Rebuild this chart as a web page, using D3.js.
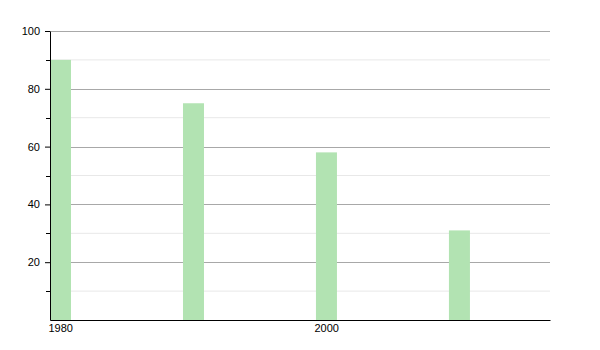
<!DOCTYPE html>
<html>
<head>
<meta charset="utf-8">
<script src="https://cdn.jsdelivr.net/npm/d3@7"></script>
<style>
  body { margin: 0; background: #fff; }
  text { font-family: "Liberation Sans", Arial, sans-serif; font-size: 11px; fill: #000; }
</style>
</head>
<body>
<script>
var years = [1980, 1990, 2000, 2010];
var values = [90, 75, 58, 31];
var xTicks = [1980, 2000];
var yMajor = [20, 40, 60, 80, 100];
var yMinor = [10, 30, 50, 70, 90];

var width = 600, height = 350;
var margin = {left: 50, right: 50, top: 31, bottom: 30};

var svg = d3.select("body").append("svg")
  .attr("width", width)
  .attr("height", height);

var x = d3.scaleLinear()
  .domain([1980, 2017.6])
  .range([margin.left, width - margin.right]);

var y = d3.scaleLinear()
  .domain([0, 100])
  .range([height - margin.bottom, margin.top]);

var defs = svg.append("defs");
defs.append("filter").attr("id", "soft")
  .append("feGaussianBlur").attr("stdDeviation", 0.6);

// minor gridlines
svg.append("g").selectAll("line").data(yMinor).enter().append("line")
  .attr("x1", x(1980)).attr("x2", x(2017.6))
  .attr("y1", d => y(d)).attr("y2", d => y(d))
  .attr("stroke", "#e8e8e8").attr("stroke-width", 1);

// major gridlines
svg.append("g").selectAll("line").data(yMajor).enter().append("line")
  .attr("x1", x(1980)).attr("x2", x(2017.6))
  .attr("y1", d => Math.round(y(d)) + 0.5).attr("y2", d => Math.round(y(d)) + 0.5)
  .attr("stroke", "#a8a8a8").attr("stroke-width", 1);

// bars
svg.append("g").selectAll("rect").data(years).enter().append("rect")
  .attr("x", d => x(d))
  .attr("y", (d, i) => y(values[i]))
  .attr("width", 21)
  .attr("height", (d, i) => y(0) - y(values[i]))
  .attr("fill", "#b2e3b2")
  .attr("filter", "url(#soft)");

// y axis
var yAxis = svg.append("g").attr("transform", "translate(" + margin.left + ",0)")
  .call(d3.axisLeft(y).tickValues(yMajor).tickSize(5).tickSizeOuter(0).tickPadding(5));
yAxis.select(".domain").attr("stroke", "#000");
yAxis.selectAll("text").style("font-size", "11px").attr("fill", "#000");
yAxis.selectAll(".minor").data(yMinor).enter().append("line")
  .attr("class", "minor")
  .attr("x1", -4).attr("x2", 0)
  .attr("y1", d => Math.round(y(d)) + 0.5).attr("y2", d => Math.round(y(d)) + 0.5)
  .attr("stroke", "#000");

// x axis
var xAxis = svg.append("g").attr("transform", "translate(0," + (height - margin.bottom) + ")")
  .call(d3.axisBottom(x).tickValues(xTicks).tickFormat(d3.format("d")).tickSize(0).tickSizeOuter(0).tickPadding(4));
xAxis.select(".domain").attr("stroke", "#000");
xAxis.selectAll("text").attr("text-anchor", "start").attr("dx", -2).style("font-size", "11px");
</script>
</body>
</html>
